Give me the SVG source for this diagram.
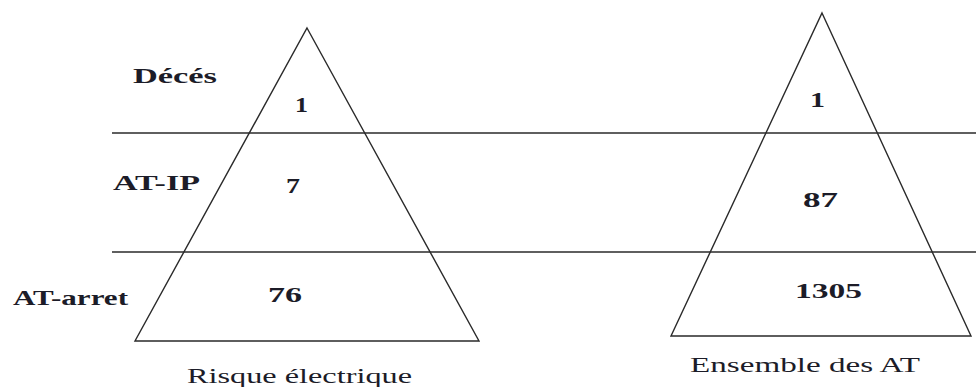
<svg xmlns="http://www.w3.org/2000/svg" width="976" height="387" viewBox="0 0 976 387">
<style>
.ln{stroke:#2a2a2a;stroke-width:1.4;fill:none}
.t{font-family:'Liberation Serif','Times New Roman',serif;font-size:22px;fill:#1c1c28}
.b{font-weight:bold}
</style>
<rect width="976" height="387" fill="#ffffff"/>
<g id="connectors">
<line class="ln" x1="112" y1="133" x2="976" y2="133"/>
<line class="ln" x1="112" y1="252" x2="976" y2="252"/>
</g>
<g id="pyramid-risque-electrique">
<polygon class="ln" points="307,28 479,341 135,341"/>
<text class="t b" x="295" y="112" textLength="13" lengthAdjust="spacingAndGlyphs">1</text>
<text class="t b" x="286" y="193" textLength="14" lengthAdjust="spacingAndGlyphs">7</text>
<text class="t b" x="268" y="302" textLength="34" lengthAdjust="spacingAndGlyphs">76</text>
<text class="t" x="187" y="383" textLength="225" lengthAdjust="spacingAndGlyphs">Risque électrique</text>
</g>
<g id="pyramid-ensemble-at">
<polygon class="ln" points="822,13 971,336 671,336"/>
<text class="t b" x="810" y="107" textLength="15" lengthAdjust="spacingAndGlyphs">1</text>
<text class="t b" x="803" y="207" textLength="35" lengthAdjust="spacingAndGlyphs">87</text>
<text class="t b" x="795" y="298" textLength="67" lengthAdjust="spacingAndGlyphs">1305</text>
<text class="t" x="690" y="372" textLength="230" lengthAdjust="spacingAndGlyphs">Ensemble des AT</text>
</g>
<g id="labels">
<text class="t b" x="133" y="83" textLength="84" lengthAdjust="spacingAndGlyphs">Décés</text>
<text class="t b" x="113" y="190" textLength="87" lengthAdjust="spacingAndGlyphs">AT-IP</text>
<text class="t b" x="13" y="305" textLength="115" lengthAdjust="spacingAndGlyphs">AT-arret</text>
</g>
</svg>
